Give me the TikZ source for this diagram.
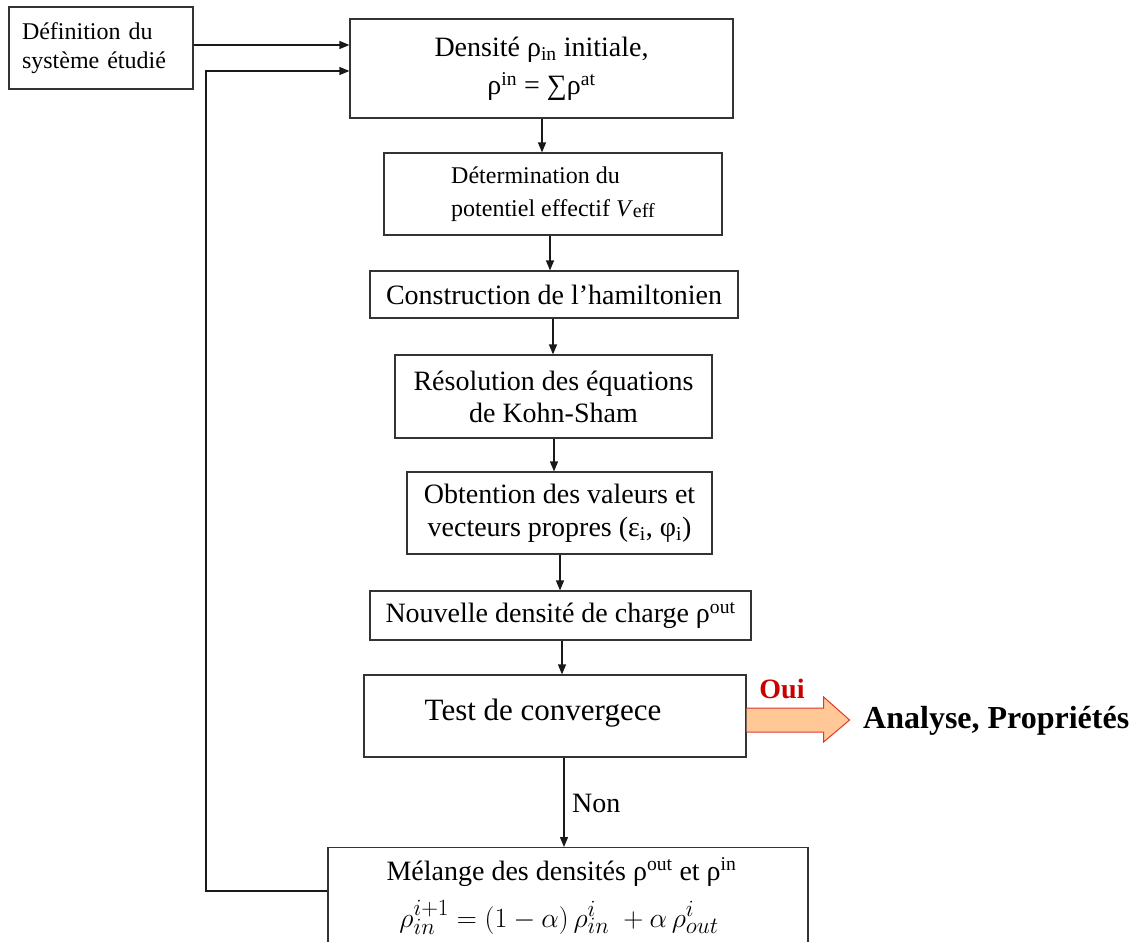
\documentclass[tikz,border=0pt]{standalone}
\usepackage{fontspec}
\setmainfont{Liberation Serif}
\usetikzlibrary{arrows.meta,calc}
\newcommand\mysub[1]{\textsubscript{#1}}
\newcommand\mysup[1]{\textsuperscript{#1}}
\definecolor{peach}{RGB}{255,200,150}
\definecolor{ouired}{RGB}{200,0,0}
\definecolor{arrred}{RGB}{225,55,45}
\tikzset{
  box/.style={draw=black!80, line width=1.2pt, rectangle, inner sep=0pt, align=center,
    font=\fontsize{28}{32}\selectfont},
  arr/.style={draw=black!90, line width=1.2pt, -{Triangle[length=10pt,width=8pt]}},
  fatarrow/.style={fill=peach, draw=arrred, line width=1pt, line join=miter},
  txt/.style={inner sep=0pt, font=\fontsize{28}{32}\selectfont},
}
\begin{document}
\begin{tikzpicture}[x=1pt,y=-1pt]
\clip (0,0) rectangle (1138,942);
\fill[white] (0,0) rectangle (1138,942);

\node[box, minimum width=184pt, minimum height=82pt, text width=158pt, align=left,
  font=\fontsize{24}{29}\selectfont] (b1) at (101,48) {Définition du\\système étudié};
\node[box, minimum width=383pt, minimum height=99pt, font=\fontsize{28}{38}\selectfont]
  (b2) at (541.5,68.5) {Densité ρ\mysub{in} initiale,\\ρ\mysup{in} = ∑ρ\mysup{at}};
\node[box, minimum width=338pt, minimum height=82pt, align=left, font=\fontsize{24}{33}\selectfont]
  (b3) at (553,194) {Détermination du\\potentiel effectif \textit{V}\raisebox{-1pt}{\fontsize{20}{20}\selectfont eff}};
\node[box, minimum width=368pt, minimum height=47pt] (b4) at (554,294.5) {Construction de l’hamiltonien};
\node[box, minimum width=317pt, minimum height=83pt] (b5) at (553.5,396.5) {Résolution des équations\\de Kohn-Sham};
\node[box, minimum width=305pt, minimum height=82pt, font=\fontsize{28}{33}\selectfont]
  (b6) at (559.5,513) {Obtention des valeurs et\\vecteurs propres (ε\mysub{i}, φ\mysub{i})};
\node[box, minimum width=381pt, minimum height=49pt] (b7) at (560.5,615.5) {Nouvelle densité de charge ρ\mysup{out}};
\node[box, minimum width=382pt, minimum height=82pt] (b8) at (555,716) {};
\node[txt, anchor=base, font=\fontsize{31}{34}\selectfont] (t8) at (543,720) {Test de convergece};
\node[box, minimum width=480pt, minimum height=200pt, anchor=north] (b9) at (568,847) {};
\node[txt, anchor=base] (t9a) at (561.5,880) {Mélange des densités ρ\mysup{out} et ρ\mysup{in}};
\node[txt, anchor=base, font=\fontsize{24.88}{30}\selectfont] (t9b) at (559,927)
  {\scalebox{1.12}{$\rho_{in}^{i+1} = \bigl(1-\alpha\bigr)\,\rho_{in}^{i}\;+\alpha\,\rho_{out}^{i}$}};

% main chain
\draw[arr] ([xshift=0.5pt]b2.south) -- ([xshift=0.5pt]b2.south |- b3.north);
\draw[arr] ([xshift=-3pt]b3.south) -- ([xshift=-3pt]b3.south |- b4.north);
\draw[arr] ([xshift=-1pt]b4.south) -- ([xshift=-1pt]b4.south |- b5.north);
\draw[arr] ([xshift=0.5pt]b5.south) -- ([xshift=0.5pt]b5.south |- b6.north);
\draw[arr] ([xshift=0.5pt]b6.south) -- ([xshift=0.5pt]b6.south |- b7.north);
\draw[arr] ([xshift=1.5pt]b7.south) -- ([xshift=1.5pt]b7.south |- b8.north);
\draw[arr] ([xshift=9pt]b8.south) -- ([xshift=9pt]b8.south |- b9.north);
\node[txt, anchor=base west] (non) at (572,812) {Non};

% inputs
\draw[arr] ([yshift=3pt]b1.east) -- ([yshift=3pt]b1.east -| b2.west);
\coordinate (fb) at (206,891);
\draw[arr] (b9.west |- fb) -- (fb) |- ([yshift=-2.5pt]b2.west);

% Oui arrow
\begin{scope}[shift={(b8.east)}]
\draw[fatarrow] (0,-8) -- (77,-8) -- (77,-19) -- (103,4) -- (77,26) -- (77,16) -- (0,16);
\end{scope}
\node[txt, anchor=base, font=\fontsize{28}{32}\selectfont\bfseries, text=ouired] (oui) at (782,698) {Oui};
\node[txt, anchor=base west, font=\fontsize{32}{36}\selectfont\bfseries] (res) at (863,728) {Analyse, Propriétés};
\end{tikzpicture}
\end{document}
